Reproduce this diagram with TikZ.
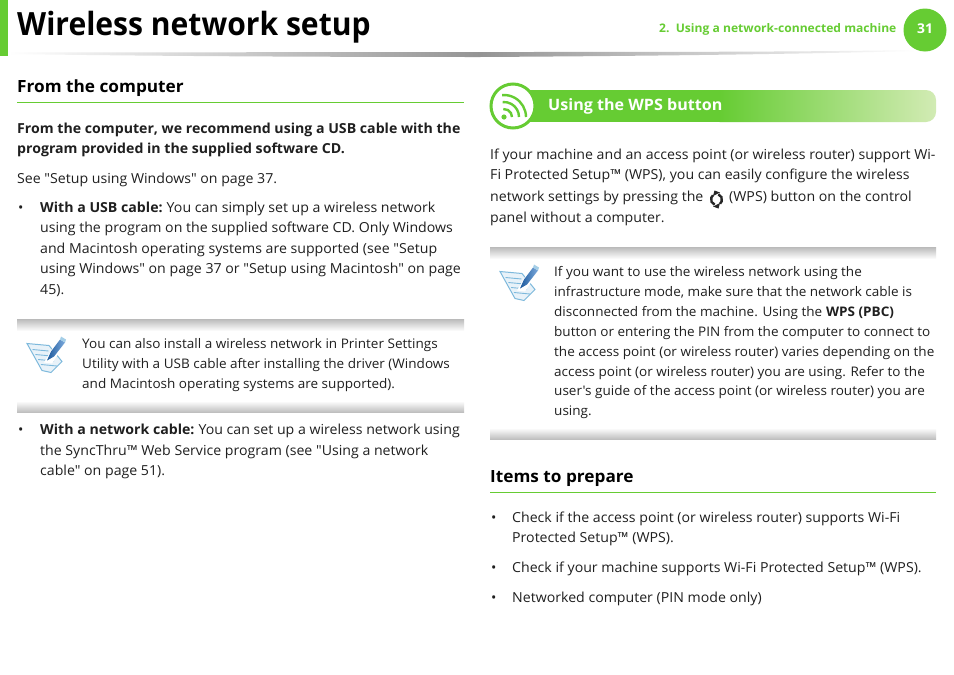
\documentclass[tikz,border=0pt]{standalone}
\usepackage{fontspec}
\setmainfont[FakeStretch=1.025,Ligatures=TeXOff]{Open Sans}
\newfontfamily\titlefont[FakeStretch=0.94]{Open Sans}
\definecolor{pageGreen}{HTML}{66CC33}
\definecolor{barLight}{HTML}{D2EBB4}
\definecolor{paperBlue}{HTML}{7DB9DC}
\definecolor{pencilBlue}{HTML}{2470C4}

\def\pageWidth{954}
\def\pageHeight{675}

\tikzset{
    textline/.style = {anchor = base west, inner sep = 0, font = \fontsize{13.8}{16}\selectfont, text = black!88},
    noteline/.style = {textline, font = \fontsize{13.2}{16}\selectfont},
    boldline/.style = {textline, font = \fontsize{13.8}{16}\selectfont\bfseries},
    headline/.style = {textline, font = \fontsize{16.8}{20}\selectfont\bfseries, text = black},
    bulletdot/.style = {textline}
}

% note band with the paper and pencil
\newcommand{\noteBand}[4]{
    \shade [top color = black!27, bottom color = white] (#1,-#3) rectangle (#2,-#3-12);
    \shade [top color = white, bottom color = black!25] (#1,-#4+11) rectangle (#2,-#4);
    \begin{scope}[shift = {(#1+10,-#3-24.5)}, yscale = -1]
        \filldraw [draw = paperBlue, fill = paperBlue!18, line width = 1]
        (0,0) -- (22,2) -- (35,18) -- (24,29) -- (15,27) -- cycle;
        \foreach \k in {0,1,2,3} {
            \draw [paperBlue, line width = 0.9]
            (5.5+\k*2.8,6+\k*5) -- ++(16,1.5);
        }
        \fill [white] (17,19) -- (33,-8) -- (40,-3) -- (25,20) -- cycle;
        \shade [left color = pencilBlue!80!black, right color = pencilBlue!60!white]
        (20,17) -- (24,8) -- (33,-4) -- (38,-1) -- (27,13) -- cycle;
        \fill [paperBlue!70] (33,-4) -- (34,-7) -- (39,-4) -- (38,-1) -- cycle;
    \end{scope}
}

\begin{document}
\begin{tikzpicture}[x = 1pt, y = 1pt]
            \useasboundingbox [fill = white] (0,0) rectangle (\pageWidth, -\pageHeight);

            %% page head
            \fill [pageGreen] (0,0) rectangle (8,-56);
            \shade [left color = white, right color = black!42]
            (8,-52.5) -- (480,-52) -- (480,-57) .. controls (300,-57) and (150,-56) .. (8,-54) -- cycle;
            \shade [left color = black!42, right color = white]
            (480,-52) .. controls (650,-52) and (800,-52) .. (915,-50) -- (915,-51) .. controls (800,-54) and (650,-56) .. (480,-57) -- cycle;
            \node [textline, font = \titlefont\fontsize{32}{36}\selectfont\bfseries, text = black] (title) at (17,-35) {Wireless network setup};
            \node [textline, font = \fontsize{11.8}{14}\selectfont\bfseries, text = pageGreen] (chapter) at (659,-32) {2.\ \ Using a network-connected machine};
            \fill [pageGreen] (925,-30) circle [radius = 21.5];
            \node [font = \fontsize{13.5}{16}\selectfont\bfseries, text = white, inner sep = 0] (pagenum) at (925,-29) {31};

            %% left column
            \node [headline] (fromComputer) at (17,-92) {From the computer};
            \draw [pageGreen, line width = 0.8] (17,-102.5) -- (464,-102.5);

            \foreach \y/\txt in {133/{From the computer, we recommend using a USB cable with the},
                                 153/{program provided in the supplied software CD.}} {
                \node [boldline] (left\y) at (17,-\y) {\txt};
            }
            \node [textline] (seeSetup) at (17,-183) {See "Setup using Windows" on page 37.};

            \node [bulletdot] (bulletA) at (18,-212) {•};
            \node [boldline] (usbLead) at (40,-212) {With a USB cable:};
            \node [textline, anchor = base west] (usbRest) at (usbLead.base east) {\ You can simply set up a wireless network};
            \foreach \y/\txt in {232/{using the program on the supplied software CD. Only Windows},
                                 253/{and Macintosh operating systems are supported (see "Setup},
                                 273/{using Windows" on page 37 or "Setup using Macintosh" on page},
                                 294/{45).}} {
                \node [textline] (left\y) at (40,-\y) {\txt};
            }

            \noteBand{17}{464}{319}{412}
            \foreach \y/\txt in {348/{You can also install a wireless network in Printer Settings},
                                 368/{Utility with a USB cable after installing the driver (Windows},
                                 388/{and Macintosh operating systems are supported).}} {
                \node [noteline] (left\y) at (82,-\y) {\txt};
            }

            \node [bulletdot] (bulletB) at (18,-434) {•};
            \node [boldline] (netLead) at (40,-434) {With a network cable:};
            \node [textline, anchor = base west] (netRest) at (netLead.base east) {\ You can set up a wireless network using};
            \foreach \y/\txt in {455/{the SyncThru™ Web Service program (see "Using a network},
                                 475/{cable" on page 51).}} {
                \node [textline] (left\y) at (40,-\y) {\txt};
            }

            %% right column
            \fill [pageGreen] (514,-90) rectangle (720,-122);
            \shade [left color = pageGreen, right color = barLight]
            (719.5,-90) {[rounded corners = 10] -- (936,-90) -- (936,-122)} -- (719.5,-122) -- cycle;
            \filldraw [draw = pageGreen, fill = white, line width = 3] (513,-106) circle [radius = 22];
            \fill [pageGreen] (504,-117) circle [radius = 2.6];
            \foreach \r in {8,15,22} {
                \draw [pageGreen, line width = 2.4] (504,-117) ++(\r,0) arc [start angle = 0, end angle = 95, radius = \r];
            }
            \node [textline, font = \fontsize{15.7}{20}\selectfont\bfseries, text = white] (wpsHead) at (548,-110) {Using the WPS button};

            \node [textline] (right159) at (490,-159) {If your machine and an access point (or wireless router) support Wi-};
            \node [textline] (right179) at (490,-179) {Fi Protected Setup™ (WPS), you can easily configure the wireless};
            \node [textline] (right201) at (490,-201) {network settings by pressing the};
            \node [textline] (right201b) at (729,-201) {(WPS) button on the control};
            \node [textline] (right222) at (490,-222) {panel without a computer.};
            %% small wps mark
            \draw [black!85, line width = 2.4] (716.5,-199.5) ++(250:5.5) arc [start angle = 250, end angle = 130, radius = 5.5];
            \draw [black!85, line width = 2.4] (716.5,-199.5) ++(70:5.5) arc [start angle = 70, end angle = -50, radius = 5.5];
            \fill [black!85] (720,-192.5) -- (714.5,-190.5) -- (713,-196) -- cycle;
            \fill [black!85] (713,-206.5) -- (718.5,-208.5) -- (720,-203) -- cycle;

            \noteBand{490}{936}{247}{439}
            \node [noteline] (right276) at (554,-276) {If you want to use the wireless network using the};
            \node [noteline] (right296) at (554,-296) {infrastructure mode, make sure that the network cable is};
            \node [noteline] (right316) at (554,-316) {disconnected from the machine. Using the};
            \node [boldline, font = \fontsize{13.2}{16}\selectfont\bfseries] (wpsPbc) at (right316.base east) {\ WPS (PBC)};
            \foreach \y/\txt in {336/{button or entering the PIN from the computer to connect to},
                                 356/{the access point (or wireless router) varies depending on the},
                                 376/{access point (or wireless router) you are using. Refer to the},
                                 395/{user's guide of the access point (or wireless router) you are},
                                 415/{using.}} {
                \node [noteline] (right\y) at (554,-\y) {\txt};
            }

            \node [headline] (itemsHead) at (490,-482) {Items to prepare};
            \draw [pageGreen, line width = 0.8] (490,-492.5) -- (936,-492.5);

            \foreach \y/\txt in {522/{Check if the access point (or wireless router) supports Wi-Fi},
                                 572/{Check if your machine supports Wi-Fi Protected Setup™ (WPS).},
                                 602/{Networked computer (PIN mode only)}} {
                \node [bulletdot] (bullet\y) at (491,-\y) {•};
                \node [textline] (right\y) at (512,-\y) {\txt};
            }
            \node [textline] (right542) at (512,-542) {Protected Setup™ (WPS).};
        \end{tikzpicture}
\end{document}
